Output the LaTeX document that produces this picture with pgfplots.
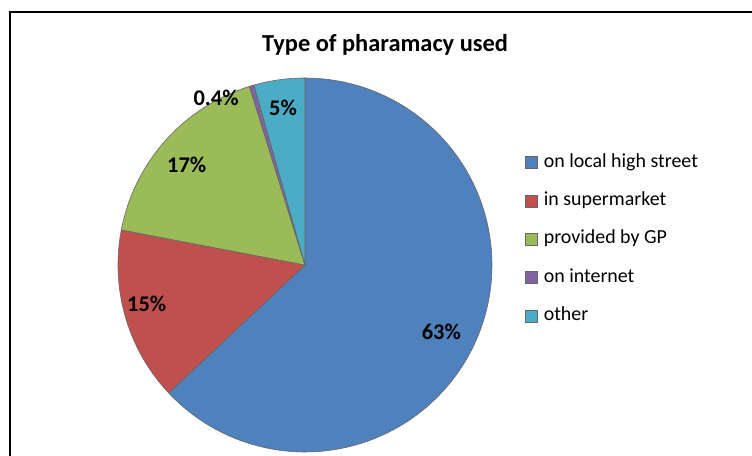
\documentclass[border=0pt]{standalone}
\usepackage{pgfplots}
\usepackage{pgfplotstable}
\pgfplotsset{compat=1.18}
\usepackage{fontspec}
\setmainfont{Carlito}

\definecolor{sBlue}{HTML}{4F81BD}
\definecolor{sRed}{HTML}{C0504D}
\definecolor{sGreen}{HTML}{9BBB59}
\definecolor{sPurple}{HTML}{8064A2}
\definecolor{sCyan}{HTML}{4BACC6}

% share of each slice (percent), clockwise from 12 o'clock
\pgfplotstableread{
slice value
0 63.0
1 15.0
2 17.2
3 0.4
4 4.4
}\piedata

\def\cx{305}\def\cy{191}\def\rr{187}
\newcommand\getval[2]{\pgfplotstablegetelem{#1}{value}\of\piedata\pgfmathsetmacro#2{\pgfplotsretval}}
\getval{0}\vA \getval{1}\vB \getval{2}\vC \getval{3}\vD \getval{4}\vE
\pgfmathsetmacro\aA{90}
\pgfmathsetmacro\aB{\aA-3.6*\vA}
\pgfmathsetmacro\aC{\aB-3.6*\vB}
\pgfmathsetmacro\aD{\aC-3.6*\vC}
\pgfmathsetmacro\aE{\aD-3.6*\vD}
\pgfmathsetmacro\aF{\aE-3.6*\vE}
% label positions: start, end, radius, angle shift
\newcommand\lblpos[6]{%
  \pgfmathsetmacro#5{\cx+#3*cos((#1+#2)/2+#4)}%
  \pgfmathsetmacro#6{\cy+#3*sin((#1+#2)/2+#4)}}
\lblpos{\aA}{\aB}{152}{-2.8}\lAx\lAy
\lblpos{\aB}{\aC}{163}{-2.3}\lBx\lBy
\lblpos{\aC}{\aD}{155}{1.5}\lCx\lCy
\lblpos{\aD}{\aE}{189}{11.5}\lDx\lDy
\lblpos{\aE}{\aF}{159}{0}\lEx\lEy

\newcommand\pieslice[3]{%
  \addplot[fill=#1, draw=black!60, line width=0.6bp, domain=#3:#2, samples=100]
    ({\cx+\rr*cos(x)},{\cy+\rr*sin(x)}) -- (axis cs:\cx,\cy) -- cycle;}

\begin{document}
\begin{tikzpicture}
\begin{axis}[
    x=1bp, y=1bp, scale only axis,
    xmin=0, xmax=752, ymin=0, ymax=456,
    hide axis,
    legend cell align=left,
    legend image code/.code={\draw[#1] (0bp,-6bp) rectangle (12bp,6bp);},
    legend style={
        draw=none, fill=none, at={(axis cs:525,302)}, anchor=north west,
        font=\fontsize{20}{22}\selectfont, inner sep=0pt,
        row sep=21.3bp, column sep=5bp,
        nodes={inner xsep=1bp, inner ysep=0pt, text height=13bp, text depth=4bp},
    },
]
\pieslice{sBlue}{\aA}{\aB}
\addlegendentry{on local high street}
\pieslice{sRed}{\aB}{\aC}
\addlegendentry{in supermarket}
\pieslice{sGreen}{\aC}{\aD}
\addlegendentry{provided by GP}
\pieslice{sPurple}{\aD}{\aE}
\addlegendentry{on internet}
\pieslice{sCyan}{\aE}{\aF}
\addlegendentry{other}

\begin{scope}[font=\bfseries\fontsize{22.5}{24}\selectfont]
\node at (axis cs:\lAx,\lAy) {63\%};
\node at (axis cs:\lBx,\lBy) {15\%};
\node at (axis cs:\lCx,\lCy) {17\%};
\node at (axis cs:\lDx,\lDy) {0.4\%};
\node at (axis cs:\lEx,\lEy) {5\%};
\end{scope}
\node[font=\bfseries\fontsize{24.5}{26}\selectfont] at (axis cs:385,411) {Type of pharamacy used};
\draw[line width=2bp] (axis cs:9.5,0) -- (axis cs:9.5,444) -- (axis cs:752,444);
\coordinate (bl) at (axis cs:0,0);
\coordinate (tr) at (axis cs:752,456);
\end{axis}
\pgfresetboundingbox
\path[use as bounding box] (bl) rectangle (tr);
\end{tikzpicture}
\end{document}
